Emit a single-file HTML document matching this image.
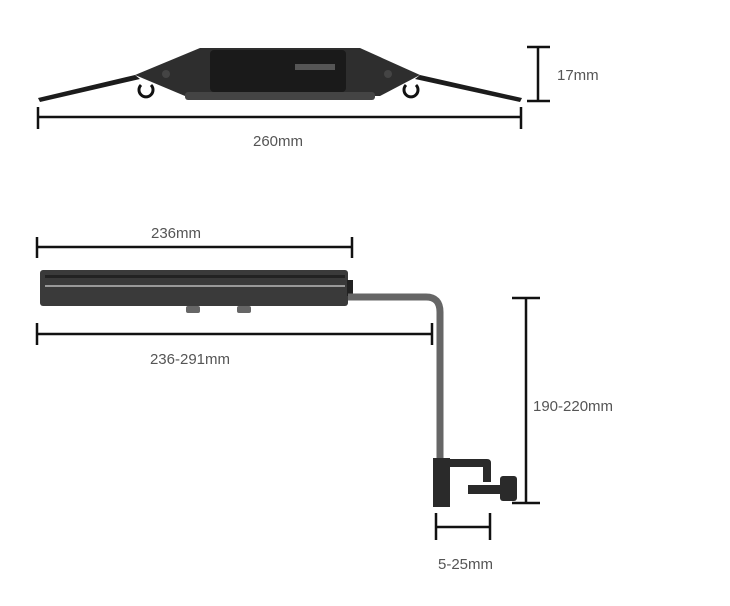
<!DOCTYPE html>
<html><head><style>body{margin:0;background:#fff}svg{display:block}text{font-family:"Liberation Sans",sans-serif;font-size:15px;fill:#555}</style></head>
<body><svg width="730" height="606" viewBox="0 0 730 606">
<g fill="#1c1c1c">
<path d="M38 98 L135 75 L140 79 L40 102 Z"/>
<path d="M522 98 L420 75 L415 79 L520 102 Z"/>
<path d="M135 75 L200 48 L360 48 L420 75 L380 96 L185 96 Z" fill="#2e2e2e"/>
<rect x="185" y="92" width="190" height="8" rx="3" fill="#444"/>
<rect x="210" y="50" width="136" height="42" rx="4" fill="#1a1a1a"/>
<rect x="295" y="64" width="40" height="6" fill="#555"/>
<circle cx="166" cy="74" r="4" fill="#444"/><circle cx="388" cy="74" r="4" fill="#444"/>
</g>
<path d="M141 85 A7 7 0 1 0 151 85" stroke="#111" stroke-width="3" fill="none"/>
<path d="M406 85 A7 7 0 1 0 416 85" stroke="#111" stroke-width="3" fill="none"/>
<g stroke="#111" stroke-width="2.5" fill="none">
<path d="M38 117H521M38 107V129M521 107V129"/>
<path d="M538 47V101M527 47H550M527 101H550"/>
<path d="M37 247H352M37 237V258M352 237V258"/>
<path d="M37 334H432M37 323V345M432 323V345"/>
<path d="M526 298V503M512 298H540M512 503H540"/>
<path d="M436 527H490M436 513V540M490 513V540"/>
</g>
<rect x="40" y="270" width="308" height="36" rx="3" fill="#3a3a3a"/>
<rect x="45" y="285" width="300" height="2" fill="#999"/>
<rect x="45" y="275" width="300" height="3" fill="#222"/>
<rect x="186" y="306" width="14" height="7" rx="2" fill="#666"/><rect x="237" y="306" width="14" height="7" rx="2" fill="#666"/>
<rect x="347" y="280" width="6" height="16" fill="#222"/>
<path d="M348 297 H426 Q440 297 440 312 V460" stroke="#666" stroke-width="7" fill="none"/>
<g fill="#2a2a2a">
<rect x="433" y="458" width="17" height="49"/>
<path d="M450 459 H487 Q491 459 491 463 V482 H483 V467 H450Z"/>
<rect x="468" y="485" width="35" height="9"/>
<rect x="500" y="476" width="17" height="25" rx="3"/>
</g>
<text x="278" y="146" text-anchor="middle">260mm</text>
<text x="557" y="80">17mm</text>
<text x="176" y="238" text-anchor="middle">236mm</text>
<text x="190" y="364" text-anchor="middle">236-291mm</text>
<text x="533" y="411">190-220mm</text>
<text x="438" y="569">5-25mm</text>
</svg></body></html>
